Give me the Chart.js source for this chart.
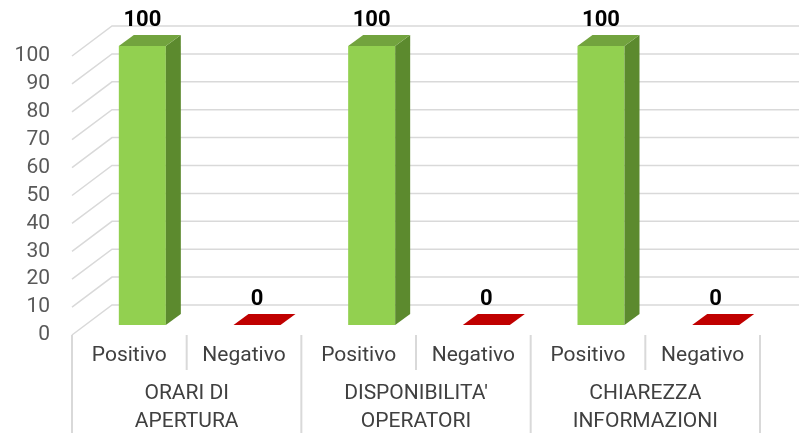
<!DOCTYPE html>
<html>
<head>
<meta charset="utf-8">
<script src="https://cdn.jsdelivr.net/npm/chart.js@4/dist/chart.umd.min.js"></script>
<style>
  body { margin: 0; background: #fff; }
  #wrap { width: 799px; height: 433px; position: relative; }
</style>
</head>
<body>
<div id="wrap"><canvas id="chart"></canvas></div>
<script>
// data
const groups = [["ORARI DI", "APERTURA"], ["DISPONIBILITA'", "OPERATORI"], ["CHIAREZZA", "INFORMAZIONI"]];
const seriesNames = ["Positivo", "Negativo"];
const positivo = [100, 100, 100];
const negativo = [0, 0, 0];
const yTicks = { min: 0, max: 100, step: 10 };

// 3D look (pixels)
const FRONT = { x: 13, y: -10 };   // bar front face relative to the axis plane
const DEPTH = { x: 15, y: -11 };   // bar depth
const WALL = { x: 40, y: -30 };    // back wall
const faces = {
    Positivo: { front: "#92D050", top: "#72A33E", side: "#5C8A2E" },
    Negativo: { front: "#C00000", top: "#C00000", side: "#8A0000" }
};
const gridColor = "#D9D9D9";
const font = "Roboto, 'Liberation Sans', sans-serif";

const threeD = {
    id: "threeD",
    beforeDatasetsDraw(chart) {
        const ctx = chart.ctx;
        const y = chart.scales.y;
        const left = chart.chartArea.left;
        ctx.save();
        ctx.strokeStyle = gridColor;
        ctx.lineWidth = 1.5;
        y.ticks.forEach(t => {
            const py = y.getPixelForValue(t.value);
            ctx.beginPath();
            ctx.moveTo(left, py);
            ctx.lineTo(left + WALL.x, py + WALL.y);
            ctx.lineTo(chart.width, py + WALL.y);
            ctx.stroke();
        });
        ctx.restore();
        // shift the bars onto their own plane
        ctx.save();
        ctx.translate(FRONT.x, FRONT.y);
    },
    afterDatasetsDraw(chart) {
        const ctx = chart.ctx;
        chart.data.datasets.forEach((ds, di) => {
            const c = faces[ds.label];
            chart.getDatasetMeta(di).data.forEach((bar, i) => {
                const p = bar.getProps(["x", "y", "base", "width"], true);
                const l = p.x - p.width / 2, r = p.x + p.width / 2;
                ctx.fillStyle = c.side;
                ctx.beginPath();
                ctx.moveTo(r, p.y);
                ctx.lineTo(r + DEPTH.x, p.y + DEPTH.y);
                ctx.lineTo(r + DEPTH.x, p.base + DEPTH.y);
                ctx.lineTo(r, p.base);
                ctx.closePath();
                ctx.fill();
                ctx.fillStyle = c.top;
                ctx.beginPath();
                ctx.moveTo(l, p.y);
                ctx.lineTo(l + DEPTH.x, p.y + DEPTH.y);
                ctx.lineTo(r + DEPTH.x, p.y + DEPTH.y);
                ctx.lineTo(r, p.y);
                ctx.closePath();
                ctx.fill();
                // value label
                ctx.fillStyle = "#000";
                ctx.font = "bold 22px " + font;
                ctx.textAlign = "center";
                ctx.textBaseline = "middle";
                ctx.fillText(String(ds.data[i]), p.x, p.y + DEPTH.y - 15);
            });
        });
        ctx.restore();

        // category axis (drawn on the front plane)
        const x = chart.scales.x;
        const bottom = chart.chartArea.bottom;
        const gw = (x.right - x.left) / groups.length;
        ctx.save();
        ctx.strokeStyle = gridColor;
        ctx.lineWidth = 2;
        for (let g = 0; g <= groups.length; g++) {
            const px = x.left + g * gw;
            ctx.beginPath();
            ctx.moveTo(px, bottom);
            ctx.lineTo(px, chart.height);
            ctx.stroke();
        }
        groups.forEach((lines, g) => {
            const cx = x.getPixelForValue(g);
            ctx.beginPath();
            ctx.moveTo(cx, bottom);
            ctx.lineTo(cx, bottom + 35);
            ctx.stroke();
            ctx.fillStyle = "#404040";
            ctx.font = "21px " + font;
            ctx.textAlign = "center";
            ctx.textBaseline = "middle";
            seriesNames.forEach((name, s) => {
                ctx.fillText(name, cx + (s - 0.5) * gw / 2, bottom + 21);
            });
            lines.forEach((t, k) => ctx.fillText(t, cx, bottom + 59 + k * 28));
        });
        ctx.restore();
    }
};

new Chart(document.getElementById("chart"), {
    type: "bar",
    data: {
        labels: groups.map(g => g.join(" ")),
        datasets: [
            { label: seriesNames[0], data: positivo, backgroundColor: faces.Positivo.front },
            { label: seriesNames[1], data: negativo, backgroundColor: faces.Negativo.front }
        ]
    },
    options: {
        responsive: true,
        maintainAspectRatio: false,
        animation: false,
        layout: { padding: { left: 0, right: 39, top: 56, bottom: 98 } },
        datasets: { bar: { categoryPercentage: 1, barPercentage: 0.41, clip: false } },
        plugins: { legend: { display: false }, tooltip: { enabled: false } },
        scales: {
            x: { display: false },
            y: {
                min: yTicks.min,
                max: yTicks.max,
                afterFit(scale) { scale.width = 72; },
                grid: { display: false, drawTicks: false },
                border: { display: false },
                ticks: { stepSize: yTicks.step, autoSkip: false, padding: 22, color: "#595959", font: { size: 21, family: font } }
            }
        }
    },
    plugins: [threeD]
});
</script>
</body>
</html>
